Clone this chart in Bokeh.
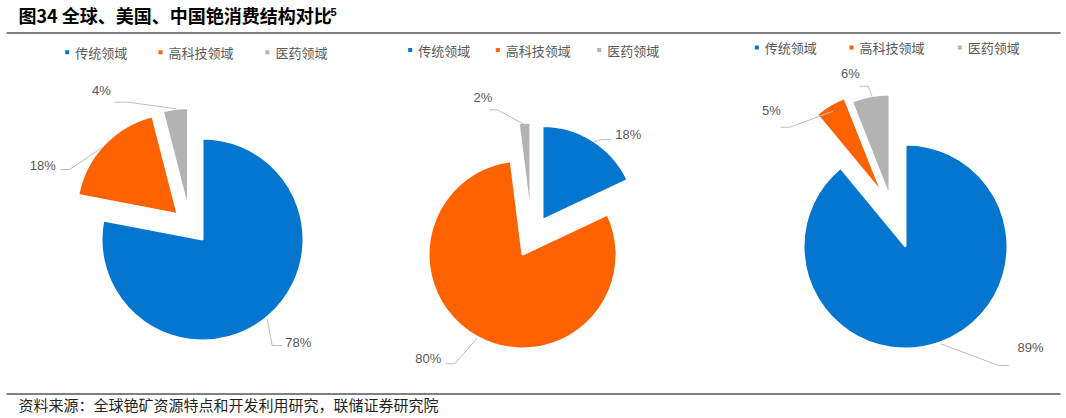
import numpy as np
from bokeh.plotting import figure
from bokeh.models import ColumnDataSource
from bokeh.core.properties import value
from bokeh.embed import file_html
from bokeh.resources import INLINE

# ---------------- data ----------------
categories = ["传统领域", "高科技领域", "医药领域"]
regions = ["全球", "美国", "中国"]
global_share = [78, 18, 4]
usa_share = [18, 80, 2]
china_share = [89, 5, 6]

title_text = "图34 全球、美国、中国铯消费结构对比"
title_note = "5"
source_text = "资料来源：全球铯矿资源特点和开发利用研究，联储证券研究院"

# ---------------- style / layout ----------------
colors = ["#0576D0", "#FF6200", "#B3B3B3"]
label_color = "#595959"
leader_color = "#BFBFBF"
CJK = "Noto Sans CJK SC"
LATIN = "Liberation Sans"

W, H = 1066, 418


def X(px):
    return px


def Y(py):
    return H - py


# per pie: centre, radius, explosion offsets (px, y down), label centres, leader polylines
pies = [
    dict(values=global_share, center=(202, 239), r=101,
         offsets=[(0, 0), (-25, -25.5), (-14.5, -30.5)],
         labels=[(297.7, 341.7), (42.2, 165), (101, 90)],
         leaders=[[(266.7, 318.3), (271.7, 345), (282.3, 345)],
                  [(103.3, 146), (69, 169), (60, 169)],
                  [(175.7, 108.3), (127.7, 101.7), (114.3, 101.7)]],
         legend_x=[66.7, 160, 267], legend_y=51.7),
    dict(values=usa_share, center=(522, 254), r=94,
         offsets=[(20, -34.5), (0, 0), (8, -38)],
         labels=[(627.7, 134.3), (427.7, 358.3), (482.3, 96.7)],
         leaders=[[(593.3, 141), (601.7, 139), (610, 139)],
                  [(476.7, 337.7), (454.3, 363.3), (445, 363.3)],
                  [(524.3, 124.3), (496.7, 109.3), (489.3, 109.3)]],
         legend_x=[409.7, 497.3, 598.7], legend_y=49.5),
    dict(values=china_share, center=(905, 246), r=102,
         offsets=[(0, 0), (-23.5, -53.5), (-16, -50)],
         labels=[(1030, 346.7), (771, 109.5), (850, 73.3)],
         leaders=[[(940, 343.3), (998.3, 365), (1008.3, 365)],
                  [(832.7, 110.7), (789.3, 126.7), (780, 126.7)],
                  [(871.7, 96), (867.7, 85.7), (859, 85.7)]],
         legend_x=[756.3, 851, 959.3], legend_y=47),
]

p = figure(width=W, height=H, x_range=(0, W), y_range=(0, H),
           output_backend="svg", toolbar_location=None, min_border=0,
           x_axis_location=None, y_axis_location=None,
           outline_line_color=None, background_fill_color="white")
p.grid.visible = False

for pie in pies:
    vals = np.array(pie["values"], dtype=float)
    frac = vals / vals.sum()
    c1 = np.cumsum(frac)
    c0 = c1 - frac
    cx, cy = pie["center"]
    xs = [X(cx + o[0]) for o in pie["offsets"]]
    ys = [Y(cy + o[1]) for o in pie["offsets"]]
    src = ColumnDataSource(dict(
        x=xs, y=ys,
        start=list(np.radians(90 - 360 * c1)),
        end=list(np.radians(90 - 360 * c0)),
        color=colors,
    ))
    p.wedge(x="x", y="y", radius=pie["r"], start_angle="start", end_angle="end",
            direction="anticlock", fill_color="color", line_color="white",
            line_width=2, source=src)

    # leader lines
    p.multi_line(xs=[[X(a) for a, b in seg] for seg in pie["leaders"]],
                 ys=[[Y(b) for a, b in seg] for seg in pie["leaders"]],
                 line_color=leader_color, line_width=1)

    # percentage labels
    p.text(x=[X(a) for a, b in pie["labels"]], y=[Y(b) for a, b in pie["labels"]],
           text=[f"{int(v)}%" for v in pie["values"]],
           text_align="center", text_baseline="middle",
           text_font=value(LATIN), text_font_size="13px", text_color=label_color)

    # legend
    lx = pie["legend_x"]
    ly = pie["legend_y"]
    p.scatter(x=[X(a) for a in lx], y=[Y(ly)] * 3, marker="square", size=4,
              fill_color=colors, line_color=None)
    p.text(x=[X(a + 8) for a in lx], y=[Y(ly)] * 3, text=categories,
           text_align="left", text_baseline="middle",
           text_font=value(CJK), text_font_size="13px", text_color=label_color)

# title
p.text(x=[X(18)], y=[Y(14.5)], text=[title_text], text_align="left",
       text_baseline="middle", text_font=value(CJK), text_font_style="bold",
       text_font_size="18px", text_color="#000000")
p.text(x=[X(330)], y=[Y(11.5)], text=[title_note], text_align="left",
       text_baseline="middle", text_font=value(LATIN), text_font_style="bold",
       text_font_size="11px", text_color="#000000")

# rules
p.line(x=[X(6), X(1060)], y=[Y(32.5), Y(32.5)], line_color="#000000", line_width=1)
p.line(x=[X(6), X(1060)], y=[Y(393.5), Y(393.5)], line_color="#000000", line_width=1)

# footer
p.text(x=[X(18)], y=[Y(404)], text=[source_text], text_align="left",
       text_baseline="middle", text_font=value(CJK), text_font_size="15px",
       text_color="#1F1F1F")

open("out.html", "w").write(file_html(p, INLINE))
